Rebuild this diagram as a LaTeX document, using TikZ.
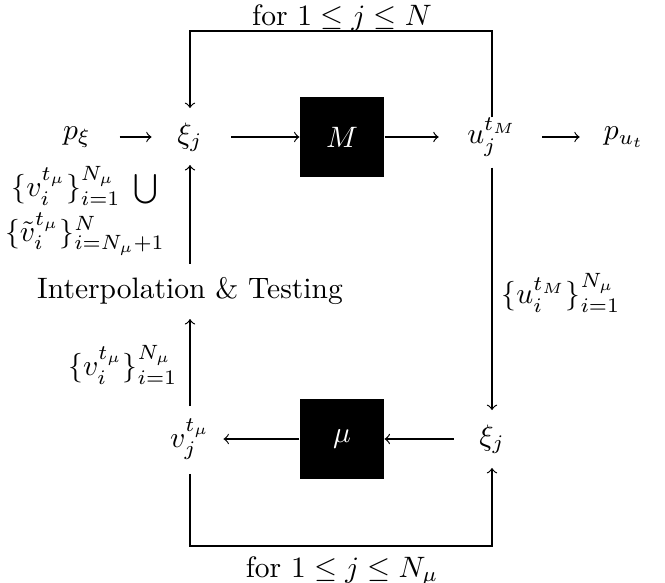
\documentclass[tikz,border=0pt]{standalone}
\begin{document}
\begin{tikzpicture}[x=0.3385pt, y=-0.3385pt,
  mnode/.style={inner sep=0pt},
  lbl/.style={inner sep=0pt},
  blk/.style={fill=black, text=white, minimum width=28.4pt, minimum height=27.1pt, inner sep=0pt},
  conn/.style={->, line width=0.4pt}]
\useasboundingbox (0,0) rectangle (665,582);
% main nodes
\node[mnode] (pxi) at (77,137) {$p_\xi$};
\node[mnode] (xi1) at (190,137) {$\xi_j$};
\node[blk] (M) at (342,137) {$M$};
\node[mnode] (u) at (492,137) {$u_j^{t_M}$};
\node[mnode] (pu) at (624,137) {$p_{u_t}$};
\node[mnode] (interp) at (190,291) {Interpolation \& Testing};
\node[mnode] (v) at (190,439) {$v_j^{t_\mu}$};
\node[blk] (mu) at (342,439) {$\mu$};
\node[mnode] (xi2) at (492,439) {$\xi_j$};
% loop corners
\coordinate (tl) at (190,31);
\coordinate (tr) at (492,31);
\coordinate (bl) at (190,546);
\coordinate (br) at (492,546);
% labels
\node[lbl] (topl) at (342,18) {for $1\le j\le N$};
\node[lbl] (botl) at (342,571) {for $1\le j\le N_\mu$};
\node[lbl] (ulab) at (561,293) {$\{u_i^{t_M}\}_{i=1}^{N_\mu}$};
\node[lbl, anchor=east] (vlab) at (178,365) {$\{v_i^{t_\mu}\}_{i=1}^{N_\mu}$};
\node[lbl, align=center] (vvlab) at (85,211) {$\{v_i^{t_\mu}\}_{i=1}^{N_\mu}\;\bigcup$\\[1.5pt]$\{\tilde v_i^{t_\mu}\}_{i=N_\mu+1}^{N}$};
% connectors
\draw[conn, shorten <=9.5pt, shorten >=8.5pt] (pxi) -- (xi1);
\draw[conn, shorten <=9.5pt] (xi1) -- (M);
\draw[conn, shorten >=9.5pt] (M) -- (u);
\draw[conn, shorten <=8.5pt, shorten >=8pt] (u) -- (pu);
\draw[conn, shorten >=4.7pt] (u) -- (tr) -- (tl) -- (xi1);
\draw[conn, shorten <=3.7pt, shorten >=4.7pt] (u) -- (xi2);
\draw[conn, shorten <=8.5pt] (xi2) -- (mu);
\draw[conn, shorten >=4.4pt] (mu) -- (v);
\draw[conn, shorten <=4.7pt, shorten >=4.7pt] (v) -- (bl) -- (br) -- (xi2);
\draw[conn, shorten <=4pt, shorten >=4.7pt] (v) -- (interp);
\draw[conn, shorten <=4.4pt, shorten >=4.4pt] (interp) -- (xi1);
\end{tikzpicture}
\end{document}
